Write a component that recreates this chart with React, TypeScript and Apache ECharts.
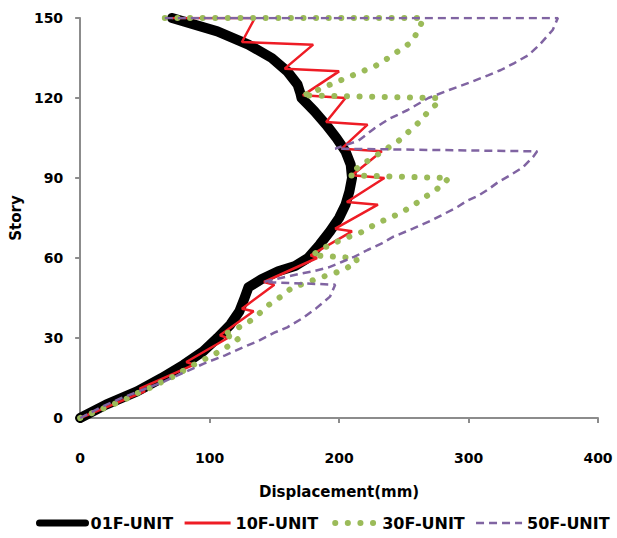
import React, { useEffect, useRef } from "react";
import * as echarts from "echarts";

// [displacement (mm), story]
const unit01: [number, number][] = [
  [0, 0], [20, 5], [44, 10], [63, 15], [80, 20], [95, 25], [106, 30], [116, 35], [123, 40],
  [127, 45], [130, 49], [140, 52], [153, 55], [166, 57], [176, 60], [185, 65], [193, 70],
  [200, 75], [205, 80], [208, 85], [210, 90], [209, 95], [205, 100], [198, 105], [190, 110],
  [181, 115], [175, 118], [171, 120], [170, 122], [168, 125], [160, 130], [148, 135],
  [130, 140], [106, 145], [71, 150],
];

const unit10: [number, number][] = [
  [0, 0], [50, 10], [46, 11], [88, 20], [82, 21], [114, 30], [108, 31], [134, 40], [125, 41],
  [150, 50], [142, 51], [183, 60], [178, 61], [210, 70], [197, 71], [230, 80], [206, 81],
  [235, 90], [210, 91], [233, 100], [202, 101], [222, 110], [190, 111], [205, 120], [172, 121],
  [200, 130], [158, 131], [180, 140], [125, 141], [135, 150], [71, 150],
];

const unit30: [number, number][] = [
  [0, 0], [15, 3], [25, 5], [35, 7], [45, 9.5], [55, 11.5], [65, 14], [74, 16], [84, 19],
  [94, 21.5], [104, 24], [113, 26.5], [123, 30],
  [110, 31], [129, 35.5], [138, 39], [146, 42.5], [155, 45.5], [164, 49], [174, 50.5],
  [184, 52.5], [195, 54], [205, 56], [214, 58.5], [213, 60],
  [179, 61], [189, 64], [198, 66], [208, 68], [219, 70], [229, 73], [239, 75], [248, 77],
  [258, 80], [267, 83], [276, 86], [285, 90],
  [208, 91], [217, 95], [226, 97.5], [235, 100.5], [245, 103.5], [253, 107], [262, 111],
  [269, 115], [277, 118.5], [277, 120],
  [171, 121], [179, 122], [188, 124], [198, 126], [208, 128], [218, 130], [228, 132],
  [238, 135], [247, 138], [256, 141], [262, 146], [265, 150], [65, 150],
];

const unit50: [number, number][] = [
  [0, 0], [16, 4], [32, 7.5], [48, 10.5], [64, 13.5], [80, 17], [96, 20.5], [112, 23.5],
  [126, 26.5], [138, 29], [150, 32], [160, 34], [172, 37.5], [182, 41], [193, 45.5], [197, 50],
  [142, 51], [155, 52.5], [169, 54], [180, 55], [192, 56.5], [202, 58.5], [212, 60.5],
  [222, 63], [233, 65.5], [242, 68], [257, 71], [271, 74], [281, 76.5], [291, 79], [299, 81.5],
  [308, 83.5], [316, 86], [323, 88.5], [332, 91], [342, 94], [350, 98], [353, 100],
  [197, 101], [215, 104], [227, 108.5], [238, 112], [253, 115.5], [269, 120], [285, 123],
  [302, 126], [315, 128.5], [325, 130.5], [335, 133], [346, 136], [355, 140], [365, 145.5],
  [369, 150], [62, 150],
];

const seriesNames = ["01F-UNIT", "10F-UNIT", "30F-UNIT", "50F-UNIT"];
const xTicks = [0, 100, 200, 300, 400];
const yTicks = [0, 30, 60, 90, 120, 150];

const FONT = "DejaVu Sans";
const BLACK = "#000000";
const RED = "#ee1c25";
const GREEN = "#9bbb59";
const PURPLE = "#8064a2";

export default function App() {
  const ref = useRef<HTMLDivElement>(null);

  useEffect(() => {
    if (!ref.current) return;
    const chart = echarts.init(ref.current, undefined, { renderer: "svg" });
    const axisCommon = {
      axisLine: { show: true, lineStyle: { color: "#8c8c8c", width: 2 } },
      axisTick: { show: true, length: 5, lineStyle: { color: "#8c8c8c", width: 2 } },
      splitLine: { show: false },
    };
    chart.setOption({
      animation: false,
      backgroundColor: "#ffffff",
      textStyle: { fontFamily: FONT },
      grid: { left: 77, right: 19, top: 18, bottom: 120, containLabel: false },
      xAxis: {
        type: "value",
        min: xTicks[0],
        max: xTicks[xTicks.length - 1],
        interval: 100,
        name: "Displacement(mm)",
        nameLocation: "middle",
        nameGap: 66,
        nameTextStyle: { fontFamily: FONT, fontWeight: "bold", fontSize: 15, color: "#000" },
        axisLabel: { fontFamily: FONT, fontWeight: "bold", fontSize: 14, color: "#000", margin: 33 },
        ...axisCommon,
      },
      yAxis: {
        type: "value",
        min: yTicks[0],
        max: yTicks[yTicks.length - 1],
        interval: 30,
        name: "Story",
        nameLocation: "middle",
        nameRotate: 90,
        nameGap: 48,
        nameTextStyle: { fontFamily: FONT, fontWeight: "bold", fontSize: 15, color: "#000" },
        axisLabel: { fontFamily: FONT, fontWeight: "bold", fontSize: 14, color: "#000", margin: 17 },
        ...axisCommon,
      },
      legend: {
        bottom: 7,
        left: 36,
        padding: 0,
        width: 580,
        itemWidth: 46,
        itemHeight: 12,
        itemGap: 10,
        itemStyle: { opacity: 0 },
        textStyle: { fontFamily: FONT, fontWeight: "bold", fontSize: 16, color: "#000" },
        data: [
          { name: seriesNames[0], lineStyle: { width: 7, cap: "round", color: BLACK } },
          { name: seriesNames[1], lineStyle: { width: 3, color: RED } },
          { name: seriesNames[2], lineStyle: { width: 6, color: GREEN, type: [0.1, 12.5], cap: "round", dashOffset: -4 } },
          { name: seriesNames[3], lineStyle: { width: 2.5, color: PURPLE, type: [8, 5] } },
        ],
      },
      series: [
        {
          name: seriesNames[0],
          type: "line",
          data: unit01,
          symbol: "none",
          lineStyle: { color: BLACK, width: 10, join: "round", cap: "round" },
          itemStyle: { color: BLACK },
        },
        {
          name: seriesNames[1],
          type: "line",
          data: unit10,
          symbol: "none",
          lineStyle: { color: RED, width: 2.5 },
          itemStyle: { color: RED },
        },
        {
          name: seriesNames[2],
          type: "line",
          data: unit30,
          symbol: "none",
          lineStyle: { color: GREEN, width: 6, type: [0.1, 12.5], cap: "round", join: "round" },
          itemStyle: { color: GREEN },
        },
        {
          name: seriesNames[3],
          type: "line",
          data: unit50,
          symbol: "none",
          lineStyle: { color: PURPLE, width: 2.5, type: [8, 5] },
          itemStyle: { color: PURPLE },
        },
      ],
    });
    return () => chart.dispose();
  }, []);

  return <div ref={ref} style={{ width: 617, height: 538, position: "absolute", left: 0, top: 0 }} />;
}
